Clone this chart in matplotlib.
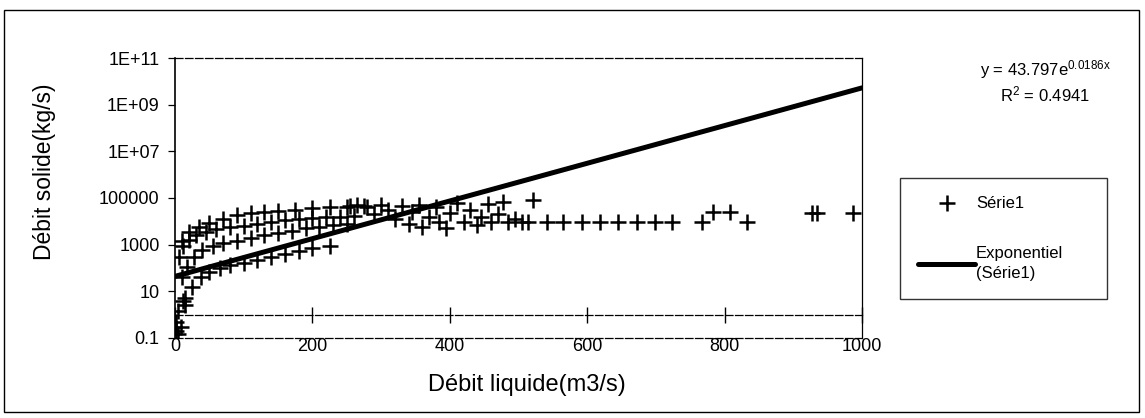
import numpy as np
import matplotlib
matplotlib.use("Agg")
import matplotlib.pyplot as plt
from matplotlib.patches import Rectangle

# ── DATA ─────────────────────────────────────
debit_liquide = [
    1, 2, 4, 5, 9, 12, 14,
    10, 20, 35, 50, 70, 90, 110, 130, 150, 175, 200, 225, 250, 275,
    6, 12, 20, 30, 45, 60, 80, 100, 120, 140, 160, 180, 200, 220, 240, 260,
    10, 18, 28, 40, 55, 70, 90, 110, 130, 150, 170, 190, 210, 230, 250,
    15, 25, 38, 50, 65, 80, 100, 120, 140, 160, 180, 200, 225,
    255, 265, 280, 290, 300, 310, 320, 330, 340, 345, 355, 360, 370, 380, 385,
    395, 400, 410, 420, 430, 440, 445, 455, 460, 470, 478, 485, 495, 505, 521,
    514, 541, 565, 592, 619, 645, 672, 699, 723, 767, 783, 808, 833, 927, 934, 987,
]
debit_solide = [
    0.2, 0.5, 0.15, 1.5, 0.3, 4, 2.5,
    1500, 3500, 6000, 8500, 13000, 18000, 22000, 25000, 28000, 32000, 36000, 40000, 42000, 45000,
    300, 900, 1600, 2500, 3500, 4500, 5500, 6500, 7500, 9000, 11000, 12500, 14000, 15000, 16000, 17000,
    40, 110, 300, 600, 900, 1200, 1500, 1900, 2600, 3200, 4000, 5000, 6000, 7000, 8000,
    5, 15, 40, 70, 100, 130, 170, 220, 300, 400, 550, 700, 900,
    45000, 50000, 40000, 20000, 48000, 30000, 12000, 45000, 8000, 25000, 50000, 6000, 15000, 40000, 9000,
    5000, 22000, 60000, 9000, 30000, 7000, 15000, 55000, 9000, 20000, 70000, 9000, 12000, 9000, 85000,
    9500, 9500, 9500, 9500, 9500, 9500, 9500, 9500, 9500, 9500, 26000, 26000, 9500, 23000, 23000, 23000,
]

# trend line y = A * exp(B * x) as given on the chart
FIT_A = 43.797
FIT_B = 0.0186

x_ticks = [0, 200, 400, 600, 800, 1000]
y_ticks = [0.1, 10, 1000, 1e5, 1e7, 1e9, 1e11]
y_tick_labels = ["0.1", "10", "1000", "100000", "1E+07", "1E+09", "1E+11"]

# ── STYLE ────────────────────────────────────
plt.rcParams["font.family"] = ["Liberation Sans", "DejaVu Sans"]

W, H = 1145, 418
fig = plt.figure(figsize=(W / 100, H / 100), dpi=100)

L, R, T, B = 175, 862, 58, 338
ax = fig.add_axes([L / W, 1 - B / H, (R - L) / W, (B - T) / H])

# ── PLOT ─────────────────────────────────────
ax.plot(debit_liquide, debit_solide, "+", color="black", ms=11, mew=1.8,
        label="Série1", zorder=3)

x_fit = np.linspace(0, 1000, 200)
ax.plot(x_fit, FIT_A * np.exp(FIT_B * x_fit), color="black", lw=3.6,
        solid_capstyle="round", label="Exponentiel\n(Série1)", zorder=4)

ax.set_yscale("log")
ax.set_xlim(0, 1000)
ax.set_ylim(0.1, 1e11)
ax.set_yticks(y_ticks)
ax.set_yticklabels(y_tick_labels)
ax.minorticks_off()
ax.set_xticks(x_ticks)
ax.tick_params(axis="y", direction="out", length=5, width=0.9, labelsize=13, pad=6)
ax.tick_params(axis="x", length=0, labelsize=13, pad=0)

for side in ["top", "right", "bottom"]:
    ax.spines[side].set_linewidth(0.9)
ax.spines["bottom"].set_linestyle((0, (6, 2)))
ax.spines["top"].set_linestyle((0, (6, 2)))
ax.spines["left"].set_linewidth(1.2)

# horizontal axis crosses at y = 1 (Excel default for log axis)
sec = ax.secondary_xaxis(1 / 12)
sec.set_xticks(x_ticks)
sec.tick_params(direction="inout", length=12, width=1.0, labelbottom=False)
sec.spines["bottom"].set_linestyle((0, (6, 2)))
sec.spines["bottom"].set_linewidth(0.9)

# ── TEXT ─────────────────────────────────────
fig.text(45 / W, 1 - 172 / H, "Débit solide(kg/s)", rotation=90,
         ha="center", va="center", fontsize=16.5)
fig.text(527 / W, 1 - 385 / H, "Débit liquide(m3/s)",
         ha="center", va="center", fontsize=17)

fig.text(1045 / W, 1 - 70 / H, r"y = 43.797e$\mathregular{^{0.0186x}}$",
         ha="center", va="center", fontsize=12)
fig.text(1045 / W, 1 - 94 / H, r"R$\mathregular{^2}$ = 0.4941",
         ha="center", va="center", fontsize=12)

leg = fig.legend(loc="upper left", bbox_to_anchor=(900 / W, 1 - 178 / H, 207 / W, 0),
                 mode="expand", fontsize=12, frameon=True, fancybox=False,
                 edgecolor="black", handlelength=3.4, handletextpad=0.05,
                 labelspacing=2.1, borderpad=1.1, borderaxespad=0)
leg.get_frame().set_linewidth(1.0)
for t in leg.get_texts():
    t.set_linespacing(1.4)

fig.patches.append(Rectangle((4 / W, 1 - 412 / H), 1135 / W, 402 / H,
                             transform=fig.transFigure, fill=False,
                             edgecolor="black", lw=1.0))

fig.savefig("out.png", dpi=100)
